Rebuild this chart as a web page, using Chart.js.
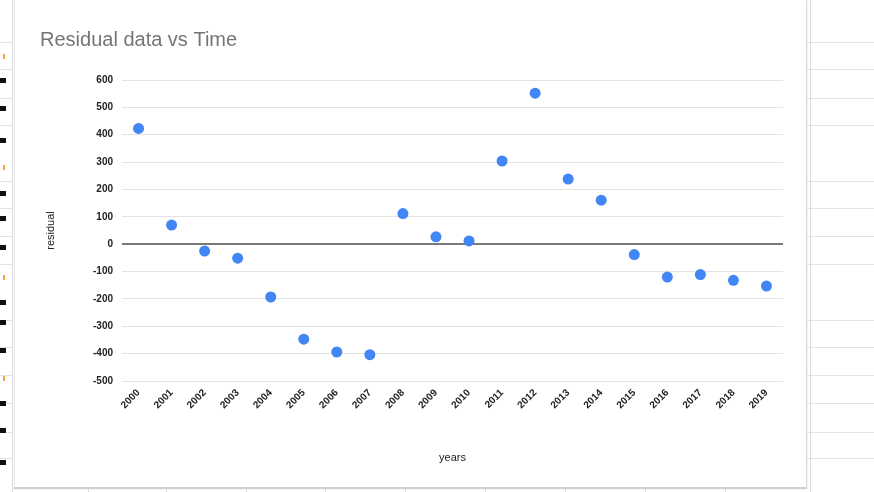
<!DOCTYPE html>
<html>
<head>
<meta charset="utf-8">
<script src="https://cdn.jsdelivr.net/npm/chart.js@4/dist/chart.umd.min.js"></script>
<style>
  html, body { margin: 0; padding: 0; background: #fff; }
  body { width: 874px; height: 492px; position: relative; overflow: hidden; font-family: "Liberation Sans", Arial, sans-serif; }
  .hline { position: absolute; height: 1px; background: #e2e2e2; }
  .vline { position: absolute; width: 1px; background: #dcdcdc; }
  .mark { position: absolute; width: 6px; height: 5px; background: #111; }
  .mark.o { background: #f4a640; width: 2px; }
  #card { position: absolute; left: 14px; top: 0; width: 791px; height: 487px; background: #fff;
          border-right: 1px solid #d6d6d6; border-left: 1px solid #eee; box-shadow: 0 2px 1px #d0d0d0; }
  #card canvas { position: absolute; left: 0; top: 0; }
</style>
</head>
<body>
<div id="sheet"></div>
<div id="card"><canvas id="chart" width="791" height="487"></canvas></div>
<script>
// Spreadsheet grid rows around the embedded chart
const rowLines = [42, 69, 98, 125, 181, 208, 236, 264, 320, 347, 375, 403, 432, 458];
const cellMarks = [[56, 1], [80, 0], [108, 0], [140, 0], [167, 1], [193, 0], [218, 0], [247, 0],
                   [277, 1], [302, 0], [322, 0], [350, 0], [378, 1], [403, 0], [430, 0], [462, 0]];
const colMarks = [88, 166, 246, 325, 405, 485, 565, 645, 725];

const sheet = document.getElementById('sheet');
rowLines.forEach(y => {
  const l = document.createElement('div'); l.className = 'hline';
  l.style.cssText = `left:0;top:${y}px;width:13px`; sheet.appendChild(l);
  const r = document.createElement('div'); r.className = 'hline';
  r.style.cssText = `left:806px;top:${y}px;width:68px`; sheet.appendChild(r);
});
cellMarks.forEach(([y, o]) => {
  const m = document.createElement('div'); m.className = o ? 'mark o' : 'mark';
  m.style.cssText += `left:${o ? 3 : 0}px;top:${y - 2}px`; sheet.appendChild(m);
});
[[12, 0, 492], [810, 0, 492]].forEach(([x, y, h]) => {
  const v = document.createElement('div'); v.className = 'vline';
  v.style.cssText = `left:${x}px;top:${y}px;height:${h}px`; sheet.appendChild(v);
});
colMarks.forEach(x => {
  const v = document.createElement('div'); v.className = 'vline';
  v.style.cssText = `left:${x}px;top:489px;height:3px`; sheet.appendChild(v);
});

// Chart data
const years = ['2000', '2001', '2002', '2003', '2004', '2005', '2006', '2007', '2008', '2009',
               '2010', '2011', '2012', '2013', '2014', '2015', '2016', '2017', '2018', '2019'];
const residuals = [423, 70, -25, -51, -193, -347, -394, -404, 112, 27,
                   12, 304, 552, 238, 161, -38, -120, -111, -132, -153];

const tickFont = { family: '"Liberation Sans", Arial, sans-serif', size: 10, weight: 'bold' };

new Chart(document.getElementById('chart'), {
  type: 'line',
  data: {
    labels: years,
    datasets: [{
      label: 'residual',
      data: residuals,
      showLine: false,
      pointStyle: 'circle',
      pointRadius: 5.5,
      pointHoverRadius: 5.5,
      pointBackgroundColor: '#4285f4',
      pointBorderColor: '#4285f4',
      pointBorderWidth: 0
    }]
  },
  options: {
    responsive: false,
    animation: false,
    layout: { padding: { left: 25, right: 23, top: 0, bottom: 18 } },
    plugins: {
      legend: { display: false },
      tooltip: { enabled: false },
      title: {
        display: true,
        text: 'Residual data vs Time',
        align: 'start',
        color: '#757575',
        font: { family: '"Liberation Sans", Arial, sans-serif', size: 20, weight: 'normal' },
        padding: { top: 28, bottom: 28 }
      }
    },
    scales: {
      x: {
        offset: true,
        grid: { display: false, drawTicks: false },
        border: { display: false },
        ticks: { color: '#222', font: tickFont, minRotation: 45, maxRotation: 45, padding: 6, autoSkip: false },
        title: { display: true, text: 'years', color: '#222',
                 font: { family: '"Liberation Sans", Arial, sans-serif', size: 11 }, padding: { top: 0, bottom: 4 } },
        afterFit: s => { s.height = 88; }
      },
      y: {
        min: -500,
        max: 600,
        grid: {
          drawTicks: false,
          color: ctx => ctx.tick && ctx.tick.value === 0 ? '#7a7a7a' : '#e3e3e3',
          lineWidth: ctx => ctx.tick && ctx.tick.value === 0 ? 2 : 1
        },
        border: { display: false },
        ticks: { stepSize: 100, color: '#222', font: tickFont, padding: 9 },
        title: { display: true, text: 'residual', color: '#222',
                 font: { family: '"Liberation Sans", Arial, sans-serif', size: 11 }, padding: { top: 4, bottom: 0 } },
        afterFit: s => { s.width = 82; }
      }
    }
  }
});
</script>
</body>
</html>
